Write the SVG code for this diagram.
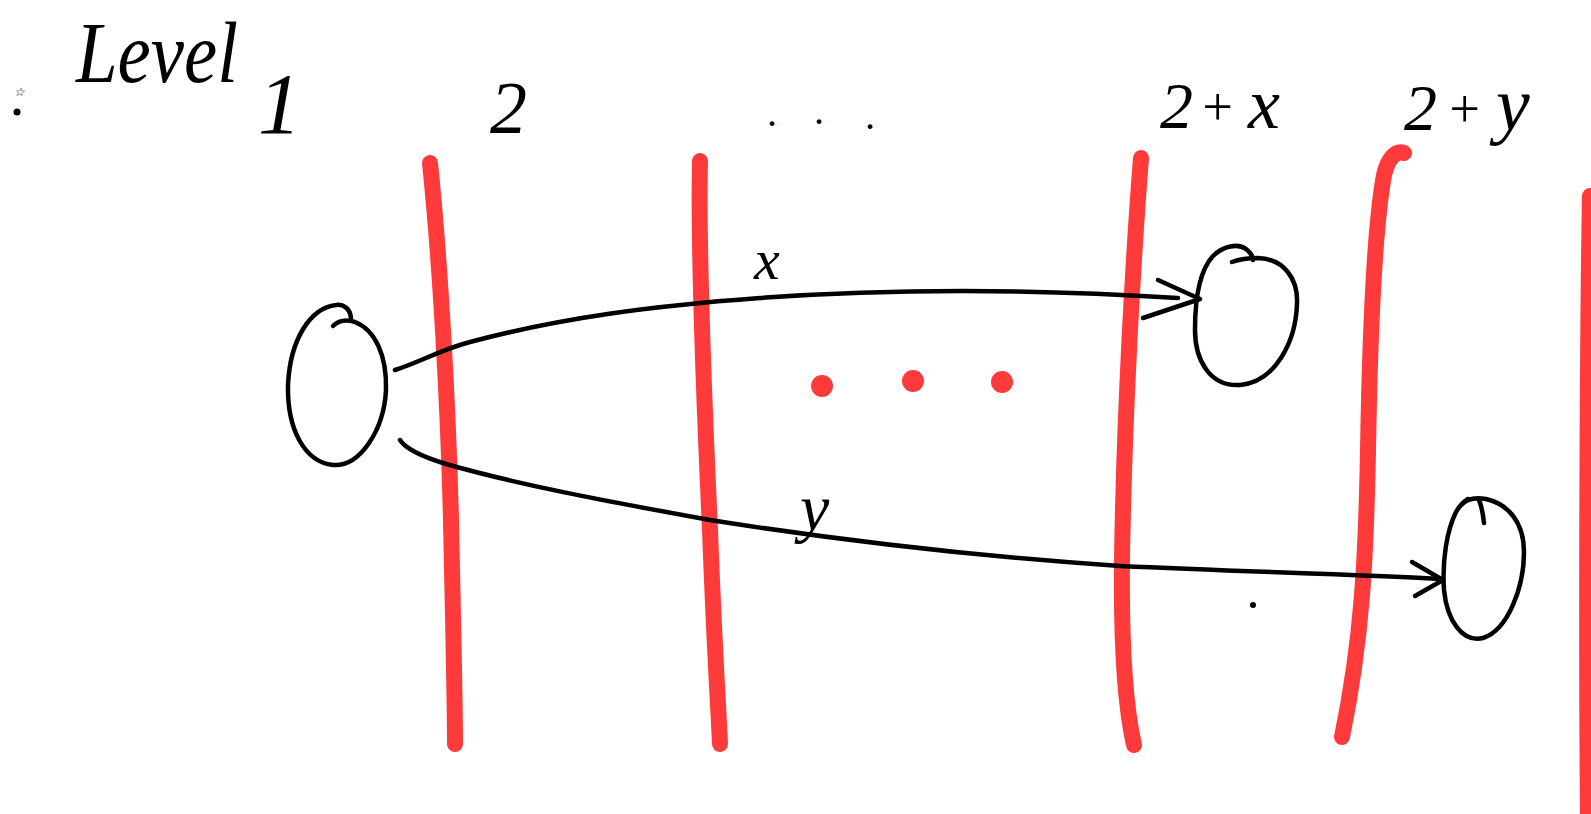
<svg xmlns="http://www.w3.org/2000/svg" width="1591" height="814" viewBox="0 0 1591 814">
<style>
.bg{fill:#ffffff}
.red{fill:none;stroke:#ff3a3a;stroke-width:16;stroke-linecap:round;stroke-linejoin:round}
.dot{fill:#ff3a3a}
.ink{fill:none;stroke:#000000;stroke-width:4.5;stroke-linecap:round;stroke-linejoin:round}
.lbl{font-family:"Liberation Serif","DejaVu Serif",serif;font-style:italic;fill:#000000}
</style>
<rect class="bg" x="0" y="0" width="1591" height="814"/>
<g id="marks">
<text class="lbl" x="14" y="96" font-size="12">☆</text>
<circle cx="17" cy="112" r="3.5" fill="#000"/>
<circle cx="1253" cy="605" r="3" fill="#000"/>
</g>
<g id="level-labels">
<text class="lbl" x="76" y="82" font-size="86" textLength="162" lengthAdjust="spacingAndGlyphs">Level</text>
<text class="lbl" x="258" y="133" font-size="86">1</text>
<text class="lbl" x="490" y="133" font-size="74">2</text>
<text class="lbl" font-size="40"><tspan x="768" y="126">.</tspan><tspan x="815" y="124">.</tspan><tspan x="866" y="129">.</tspan></text>
<text class="lbl" x="1160" y="128" font-size="66">2</text>
<text class="lbl" x="1199" y="125" font-size="54">+</text>
<text class="lbl" x="1248" y="128" font-size="72">x</text>
<text class="lbl" x="1404" y="130" font-size="66">2</text>
<text class="lbl" x="1446" y="127" font-size="54">+</text>
<text class="lbl" x="1496" y="130" font-size="76">y</text>
</g>
<g id="level-separators">
<path class="red" d="M430,163 C440,260 448,400 451,520 C453,620 455,700 455,744"/>
<path class="red" d="M700,161 C698,250 704,400 710,530 C714,640 718,700 720,744"/>
<path class="red" d="M1141,158 C1133,260 1124,420 1122,560 C1121,650 1126,710 1134,745"/>
<path class="red" d="M1404,153 C1396,150 1388,158 1384,175 C1374,230 1370,330 1368,450 C1366,560 1362,640 1342,737"/>
<path class="red" d="M1590,196 C1588,300 1586,600 1588,820"/>
<circle class="dot" cx="822" cy="386" r="11"/>
<circle class="dot" cx="913" cy="381" r="11"/>
<circle class="dot" cx="1002" cy="382" r="11"/>
</g>
<g id="node-level1">
<path class="ink" d="M351,318 C350,308 343,304 336,305 C310,308 290,340 288,385 C287,430 305,462 333,465 C360,467 384,430 386,390 C387,355 375,330 355,322 C345,319 338,321 333,326"/>
</g>
<g id="node-level2x">
<path class="ink" d="M1232,262 C1240,259 1250,258 1258,258 C1285,259 1298,280 1297,303 C1296,342 1275,382 1240,385 C1210,387 1195,360 1195,330 C1195,298 1200,270 1213,256 C1223,246 1238,243 1246,249 C1251,253 1253,256 1253,260"/>
</g>
<g id="node-level2y">
<path class="ink" d="M1460,506 C1466,499 1476,497 1486,499 C1508,504 1524,522 1524,552 C1524,587 1508,630 1483,638 C1462,643 1447,620 1444,590 C1442,560 1447,530 1456,512 C1460,505 1463,502 1468,499"/>
<path class="ink" d="M1484,523 C1483,514 1482,507 1479,500"/>
</g>
<g id="connectors">
<path class="ink" d="M395,370 C420,362 440,350 470,342 C560,318 650,306 760,298 C900,288 1050,290 1178,298"/>
<polyline class="ink" points="1158,280 1200,299 1143,318"/>
<text class="lbl" x="754" y="279" font-size="58">x</text>
<path class="ink" d="M400,440 C405,448 420,456 446,464 C520,485 600,500 710,520 C850,542 1000,558 1120,566 C1250,572 1350,574 1440,579"/>
<polyline class="ink" points="1412,562 1443,580 1415,596"/>
<text class="lbl" x="800" y="530" font-size="66">y</text>
</g>
</svg>
